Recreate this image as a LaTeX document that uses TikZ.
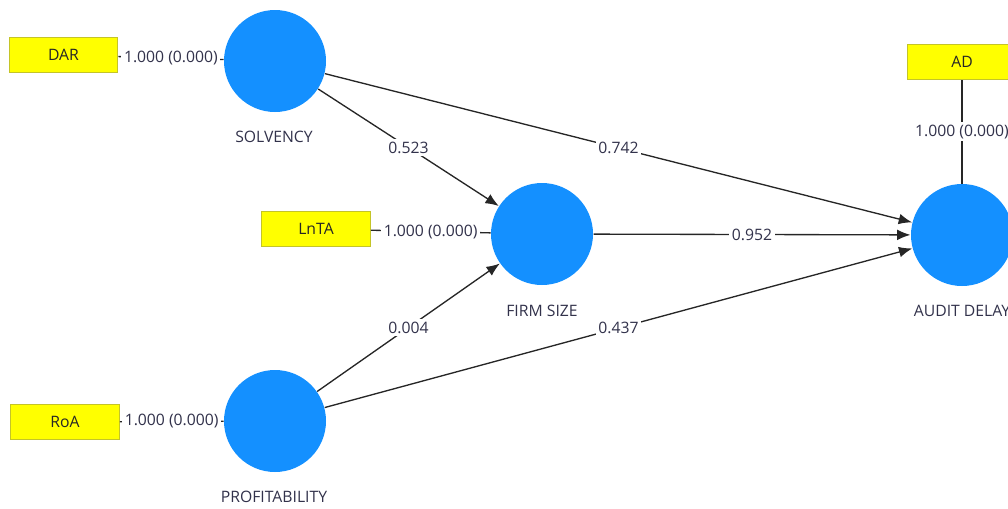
\documentclass[tikz,border=0pt]{standalone}
\usepackage{fontspec}
\setmainfont{Open Sans}
\usetikzlibrary{arrows.meta}

\definecolor{lvblue}{RGB}{20,144,255}
\definecolor{mvyellow}{RGB}{255,255,0}
\definecolor{mvborder}{RGB}{196,196,40}
\definecolor{coeftext}{RGB}{50,50,75}

\tikzset{every picture/.style={line width=0.75pt}}
\tikzset{
  latent/.style={circle, fill=lvblue, draw=none, minimum size=76.5pt, inner sep=0pt},
  indicator/.style={rectangle, fill=mvyellow, draw=mvborder, minimum width=81.5pt, minimum height=26.5pt, inner sep=0pt, font=\fontsize{11.8}{14}\selectfont, text=black!85},
  lvname/.style={font=\fontsize{11.8}{14}\selectfont, text=coeftext},
  coef/.style={fill=white, inner sep=2pt, font=\fontsize{11.8}{14}\selectfont, text=coeftext},
  structpath/.style={draw=black!85, line width=1pt, -{Latex[length=10pt,width=8pt]}},
  outerlink/.style={draw=black!85, line width=1pt},
}

\begin{document}
\begin{tikzpicture}[x=0.75pt,y=0.75pt,yscale=-1,xscale=1]
	\clip (0,0) rectangle (1008,508);

	% Latent variables
	\node[latent] (solvency) at (275,61) {};
	\node[latent] (firmsize) at (542,234) {};
	\node[latent] (profitability) at (275,421) {};
	\node[latent] (auditdelay) at (962,235) {};

	% Text Node
	\node[lvname] (solvencyname) at (274,137) {SOLVENCY};
	\node[lvname] (firmsizename) at (542,311) {FIRM SIZE};
	\node[lvname] (profitabilityname) at (274,497) {PROFITABILITY};
	\node[lvname] (auditdelayname) at (962,311) {AUDIT DELAY};

	% Indicators
	\node[indicator] (dar) at (63.5,55) {DAR};
	\node[indicator] (lnta) at (316,229) {LnTA};
	\node[indicator] (roa) at (65,422) {RoA};
	\node[indicator] (ad) at (962,62) {AD};

	% Outer loadings
	\draw[outerlink] (dar) -- node[coef] {1.000 (0.000)} (solvency);
	\draw[outerlink] (lnta) -- node[coef] {1.000 (0.000)} (firmsize);
	\draw[outerlink] (roa) -- node[coef] {1.000 (0.000)} (profitability);
	\draw[outerlink] (ad) -- node[coef] {1.000 (0.000)} (auditdelay);

	% Path coefficients
	\draw[structpath] (solvency) -- node[coef] {0.523} (firmsize);
	\draw[structpath] (solvency) -- node[coef] {0.742} (auditdelay);
	\draw[structpath] (firmsize) -- node[coef] {0.952} (auditdelay);
	\draw[structpath] (profitability) -- node[coef] {0.004} (firmsize);
	\draw[structpath] (profitability) -- node[coef] {0.437} (auditdelay);

\end{tikzpicture}
\end{document}
